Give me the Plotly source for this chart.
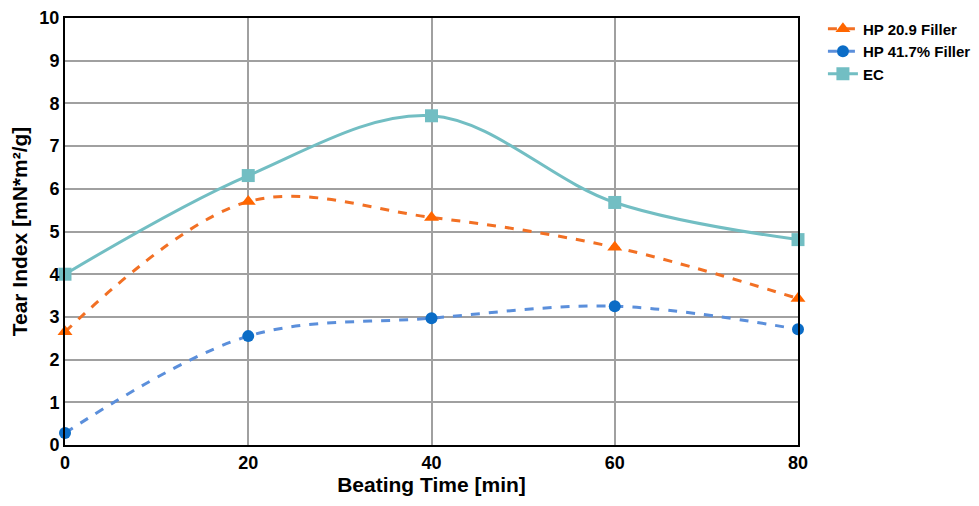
import plotly.graph_objects as go

beating_time = [0, 20, 40, 60, 80]
hp209 = [2.65, 5.70, 5.33, 4.63, 3.43]
hp417 = [0.28, 2.55, 2.97, 3.25, 2.71]
ec = [4.00, 6.31, 7.71, 5.68, 4.81]

x_ticks = [0, 20, 40, 60, 80]
y_ticks = list(range(0, 11))

fig = go.Figure()
fig.add_trace(go.Scatter(
    x=beating_time, y=hp209, name="HP 20.9 Filler", mode="lines+markers",
    line=dict(color="#F27024", width=3, dash="dash", shape="spline", smoothing=1.0),
    marker=dict(symbol="triangle-up", size=13, color="#FF6600"),
    cliponaxis=False))
fig.add_trace(go.Scatter(
    x=beating_time, y=hp417, name="HP 41.7% Filler", mode="lines+markers",
    line=dict(color="#5B8FDB", width=3, dash="dash", shape="spline", smoothing=1.0),
    marker=dict(symbol="circle", size=12, color="#0B6CC6"),
    cliponaxis=False))
fig.add_trace(go.Scatter(
    x=beating_time, y=ec, name="EC", mode="lines+markers",
    line=dict(color="#72BEC3", width=3, shape="spline", smoothing=1.0),
    marker=dict(symbol="square", size=13, color="#72BEC3"),
    cliponaxis=False))

fam = "Liberation Sans, Arial, sans-serif"
axis_font = dict(family=fam, size=21, color="black")
fig.update_layout(
    width=971, height=498,
    margin=dict(l=57, r=181, t=10, b=61, autoexpand=False),
    paper_bgcolor="white", plot_bgcolor="white",
    font=dict(family=fam, color="black"),
    showlegend=True,
    legend=dict(x=1.034, y=1.013, xanchor="left", yanchor="top",
                font=dict(size=15, family=fam, weight="bold"),
                bgcolor="rgba(0,0,0,0)", tracegroupgap=0, itemwidth=30),
    xaxis=dict(range=[0, 80], tickvals=x_ticks, showgrid=True, gridcolor="#A0A0A0", gridwidth=1.5,
               showline=True, linecolor="black", linewidth=2, mirror=True, zeroline=False,
               ticks="", tickfont=dict(size=18, weight="bold"), automargin=False,
               ticklabeloverflow="allow",
               title=dict(text="<b>Beating Time [min]</b>", font=axis_font, standoff=5)),
    yaxis=dict(range=[0, 10], tickvals=y_ticks, showgrid=True, gridcolor="#A0A0A0", gridwidth=1.5,
               showline=True, linecolor="black", linewidth=2, mirror=True, zeroline=False,
               ticks="", tickfont=dict(size=18, weight="bold"), automargin=False,
               ticklabeloverflow="allow",
               title=dict(text="<b>Tear Index [mN*m²/g]</b>", font=axis_font, standoff=7)),
)
fig.write_html("out.html")
